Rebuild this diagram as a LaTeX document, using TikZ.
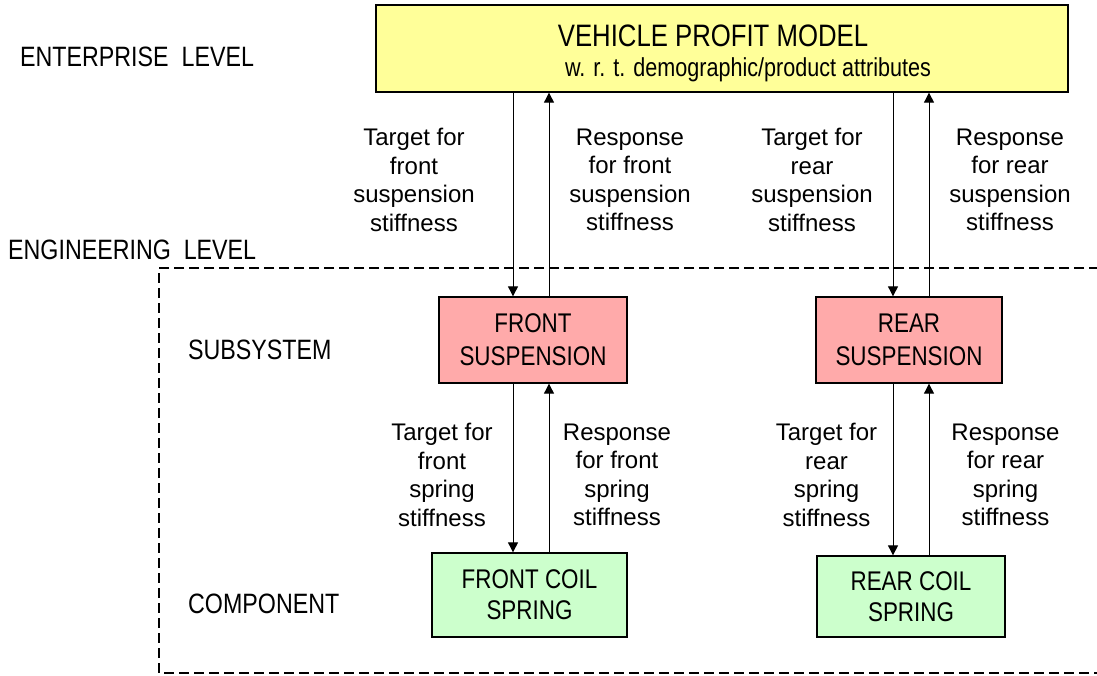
\documentclass[tikz,border=0pt]{standalone}
\usepackage{fontspec}
\setmainfont{Liberation Sans}
\newfontfamily\narrowfont[FakeStretch=0.83]{Liberation Sans}
\usetikzlibrary{arrows.meta}
\definecolor{modelyellow}{HTML}{FFFF99}
\definecolor{subpink}{HTML}{FFAAAA}
\definecolor{compgreen}{HTML}{CCFFCC}
\tikzset{
  blockbox/.style={draw=black, line width=1.3pt, rectangle, align=center, inner sep=0pt,
    font=\narrowfont\fontsize{27}{31}\selectfont},
  levellabel/.style={anchor=west, inner sep=0pt, font=\narrowfont\fontsize{28}{32}\selectfont},
  flowlabel/.style={align=center, inner sep=0pt, font=\fontsize{24}{28.5}\selectfont},
  flow/.style={line width=0.9pt, -{Triangle[length=10pt,width=10pt]}},
  frameline/.style={line width=1.2pt, dash pattern=on 10pt off 5pt},
}
\begin{document}
\begin{tikzpicture}[x=1pt,y=-1pt]
\path[use as bounding box] (0,0) rectangle (1097,675);

% blocks
\node[blockbox, fill=modelyellow, minimum width=692pt, minimum height=87pt] (top) at (722,48.5) {};
\node[font=\narrowfont\fontsize{31}{35}\selectfont, inner sep=0pt] (toptitle) at (713,36) {VEHICLE PROFIT MODEL};
\node[font=\narrowfont\fontsize{26}{30}\selectfont, inner sep=0pt] (topsub) at (748,70) {w. r. t. demographic/product attributes};

\node[blockbox, fill=subpink, minimum width=188pt, minimum height=86pt] (fs) at (533,340) {FRONT\\[2pt]SUSPENSION};
\node[blockbox, fill=subpink, minimum width=186pt, minimum height=86pt] (rs) at (909,340) {REAR\\[2pt]SUSPENSION};
\node[blockbox, fill=compgreen, minimum width=195pt, minimum height=84pt] (fc) at (529.5,595) {FRONT COIL\\SPRING};
\node[blockbox, fill=compgreen, minimum width=188pt, minimum height=81pt] (rc) at (911,596.5) {REAR COIL\\SPRING};

% level labels
\node[levellabel] (ent) at (20,57) {ENTERPRISE\ \ LEVEL};
\node[levellabel] (eng) at (8,250) {ENGINEERING\ \ LEVEL};
\node[levellabel] (sub) at (188,350) {SUBSYSTEM};
\node[levellabel] (comp) at (188,604) {COMPONENT};

% engineering-level frame, open to the right
\coordinate (fa) at (1099,268);
\coordinate (fb) at (159,673);
\coordinate (fc2) at (1099,673);
\draw[frameline] (fa) -| (fb) -- (fc2);

% arrow columns
\coordinate (xfd) at (513,0);
\coordinate (xfu) at (549,0);
\coordinate (xrd) at (893,0);
\coordinate (xru) at (929,0);

\draw[flow] (top.south -| xfd) -- (fs.north -| xfd);
\draw[flow] (fs.north -| xfu) -- (top.south -| xfu);
\draw[flow] (top.south -| xrd) -- (rs.north -| xrd);
\draw[flow] (rs.north -| xru) -- (top.south -| xru);

\draw[flow] (fs.south -| xfd) -- (fc.north -| xfd);
\draw[flow] (fc.north -| xfu) -- (fs.south -| xfu);
\draw[flow] (rs.south -| xrd) -- (rc.north -| xrd);
\draw[flow] (rc.north -| xru) -- (rs.south -| xru);

% flow labels
\node[flowlabel] (l1) at (414,180) {Target for\\front\\suspension\\stiffness};
\node[flowlabel] (l2) at (630,180) {Response\\for front\\suspension\\stiffness};
\node[flowlabel] (l3) at (812,180) {Target for\\rear\\suspension\\stiffness};
\node[flowlabel] (l4) at (1010,180) {Response\\for rear\\suspension\\stiffness};

\node[flowlabel] (l5) at (442,475) {Target for\\front\\spring\\stiffness};
\node[flowlabel] (l6) at (617,475) {Response\\for front\\spring\\stiffness};
\node[flowlabel] (l7) at (826.5,475) {Target for\\rear\\spring\\stiffness};
\node[flowlabel] (l8) at (1005.5,475) {Response\\for rear\\spring\\stiffness};
\end{tikzpicture}
\end{document}
